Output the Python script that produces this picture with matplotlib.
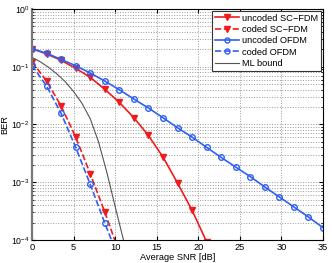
import matplotlib
matplotlib.use("Agg")
import matplotlib.pyplot as plt
from matplotlib.ticker import LogLocator, NullFormatter

plt.rcParams["font.family"] = ["Liberation Sans", "DejaVu Sans"]

# SNR grid of the simulated curves (dB)
snr = [0, 1.75, 3.5, 5.25, 7, 8.75, 10.5, 12.25, 14, 15.75, 17.5,
       19.25, 21, 22.75, 24.5, 26.25, 28, 29.75, 31.5, 33.25, 35]

uncoded_ofdm = [0.205, 0.171, 0.134, 0.104, 0.0778, 0.0565, 0.040, 0.0276,
                0.0193, 0.0131, 0.00877, 0.00605, 0.00401, 0.00269, 0.00183,
                0.00125, 8.27e-4, 5.56e-4, 3.73e-4, 2.50e-4, 1.63e-4]

snr_sc = [0, 1.75, 3.5, 5.25, 7, 8.75, 10.5, 12.25, 14, 15.75, 17.5, 19.25, 21]
uncoded_scfdm = [0.205, 0.167, 0.129, 0.094, 0.0656, 0.0407, 0.0242, 0.0131,
                 0.00645, 0.00274, 9.7e-4, 3.27e-4, 9.3e-5]

snr_coded = [0, 1.75, 3.5, 5.25, 7, 8.75, 10.5]
coded_scfdm = [0.122, 0.0566, 0.0209, 0.00607, 0.00141, 3.05e-4, 6.0e-5]
coded_ofdm = [0.106, 0.0464, 0.0156, 0.00403, 9.2e-4, 1.97e-4, 4.5e-5]

snr_ml = [0, 1, 2, 3, 4, 5, 6, 7, 8, 9, 10, 11, 12]
ml_bound = [0.146, 0.1216, 0.0977, 0.075, 0.055, 0.0372, 0.0234, 0.0126,
            0.00501, 0.00148, 3.8e-4, 1.0e-4, 2.5e-5]

RED = "#ee1c1c"
BLUE = "#3060f0"

fig = plt.figure(figsize=(3.32, 2.63), dpi=100)
ax = fig.add_axes([0.0964, 0.0875, 0.8766, 0.8783])

ax.semilogy(snr_sc, uncoded_scfdm, "-v", color=RED, lw=1.2, ms=4.5,
            mfc=RED, mec=RED, label="uncoded SC\u2212FDM")
ax.semilogy(snr_coded, coded_scfdm, "--v", color=RED, lw=1.2, ms=4.5,
            mfc=RED, mec=RED, label="coded SC\u2212FDM")
ax.semilogy(snr, uncoded_ofdm, "-o", color=BLUE, lw=1.2, ms=4,
            mfc="none", mec=BLUE, mew=1.0, label="uncoded OFDM")
ax.semilogy(snr_coded, coded_ofdm, "--o", color=BLUE, lw=1.2, ms=4,
            mfc="none", mec=BLUE, mew=1.0, label="coded OFDM")
ax.semilogy(snr_ml, ml_bound, "-", color="#555555", lw=0.8, label="ML bound")

ax.set_xlim(0, 35)
ax.set_ylim(1e-4, 1)
ax.set_xticks(range(0, 36, 5))
ax.yaxis.set_major_locator(LogLocator(base=10, numticks=10))
ax.yaxis.set_minor_locator(LogLocator(base=10, subs=range(2, 10), numticks=10))
ax.yaxis.set_minor_formatter(NullFormatter())

ax.grid(True, which="major", axis="both", ls=":", color="#999999", lw=0.7)
ax.grid(True, which="minor", axis="y", ls=":", color="#999999", lw=0.7)

ax.tick_params(which="both", direction="in", labelsize=6.7, pad=2,
               top=True, right=True)
ax.tick_params(axis="y", labelsize=6.3, pad=1.5)
ax.tick_params(which="major", length=3)
ax.tick_params(which="minor", length=1.5)

for s in ax.spines.values():
    s.set_linewidth(0.8)
ax.spines["left"].set_color("#777777")
ax.spines["left"].set_linewidth(1.6)

ax.set_xlabel("Average SNR [dB]", fontsize=6.7, labelpad=1)
ax.set_ylabel("BER", fontsize=6.7)
ax.yaxis.set_label_coords(-0.078, 0.5)

leg = ax.legend(loc="upper right", fontsize=6.7, fancybox=False, framealpha=1,
                edgecolor="#333333", handlelength=2.6, handletextpad=0.3,
                labelspacing=0.25, borderpad=0.3, borderaxespad=0.2,
                markerscale=0.9)
leg.get_frame().set_linewidth(0.8)

fig.savefig("out.png", dpi=100)
